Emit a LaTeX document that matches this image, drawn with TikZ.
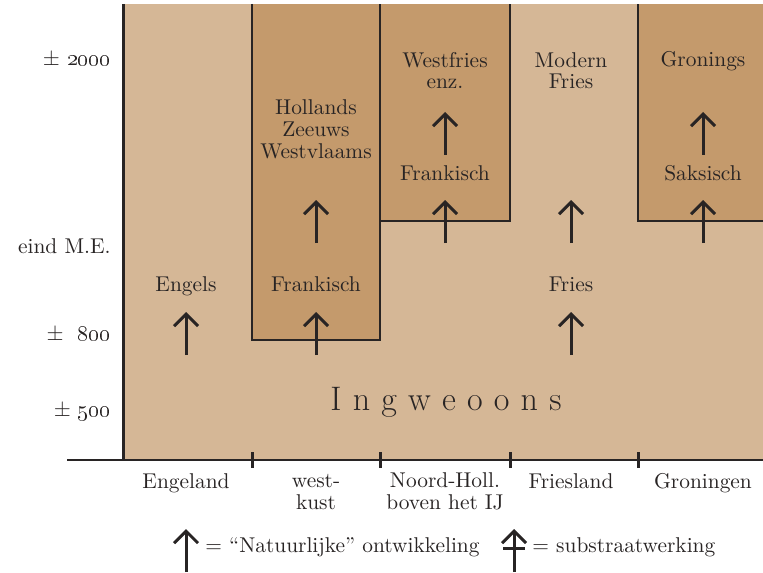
\documentclass[tikz,border=0pt]{standalone}
\usetikzlibrary{arrows.meta}
\definecolor{lichtbruin}{RGB}{213,183,150}
\definecolor{donkerbruin}{RGB}{196,154,108}
\definecolor{inkt}{RGB}{40,36,36}
\newcommand\spatie{\kern5.6pt}

\begin{document}
\begin{tikzpicture}
[x=0.5pt,y=-0.5pt,%
  every node/.style={text=inkt,align=center,inner sep=0pt,anchor=base,%
    font=\fontsize{10.7}{10.8}\selectfont},%
  vak/.style={draw=inkt,line width=1pt},%
  pijl/.style={-{Straight Barb[length=6pt,width=12pt]},line width=1.5pt,draw=inkt},%
  streep/.style={line width=1.5pt,draw=inkt}]
\useasboundingbox (0,0) rectangle (763,572);
\fill[lichtbruin] (123,4) rectangle (763,460);
% donkere vakken
\fill[donkerbruin] (252,4) rectangle (380,340);
\fill[donkerbruin] (380,4) rectangle (510,221);
\fill[donkerbruin] (638,4) rectangle (763,221);
\draw[vak] (252,4) -- (252,340) -- (380,340) -- (380,4);
\draw[vak] (380,221) -- (510,221) -- (510,4);
\draw[vak] (763,221) -- (638,221) -- (638,4);
% assen
\coordinate (as-boven) at (123,4);
\coordinate (as-hoek) at (123,460);
\coordinate (as-links) at (67,460);
\coordinate (as-rechts) at (763,460);
\draw[streep] (as-boven) -- (as-hoek);
\draw[line width=1pt,draw=inkt] (as-links) -- (as-rechts);
\foreach \x in {252,380,510,638}
  \draw[streep] (\x,452) -- (\x,468);
% tijd
\node[anchor=base east] (t2000) at (111,66) {$\pm$ \oldstylenums{2000}};
\node[anchor=base east] (tme) at (111,253) {eind M.E.};
\node[anchor=base east] (t800) at (111,340) {$\pm$\ \ \oldstylenums{800}};
\node[anchor=base east] (t500) at (111,416) {$\pm$ \oldstylenums{500}};
% gebieden (basis = laatste regel)
\node (engeland) at (186,488) {Engeland};
\node (westkust) at (316,509) {west-\\kust};
\node (noordholl) at (445,509) {Noord-Holl.\\boven het IJ};
\node (friesland) at (571,488) {Friesland};
\node (groningen) at (703,488) {Groningen};
% talen
\node (engels) at (186,291) {Engels};
\node (frankisch1) at (316,291) {Frankisch};
\node (fries) at (571,291) {Fries};
\node (hollands) at (316,158) {Hollands\\Zeeuws\\Westvlaams};
\node (frankisch2) at (445,180) {Frankisch};
\node (westfries) at (445,89) {Westfries\\enz.};
\node (modern) at (571,89) {Modern\\Fries};
\node (saksisch) at (703,180) {Saksisch};
\node (gronings) at (703,67) {Gronings};
\node[font=\fontsize{17}{17}\selectfont] (ingweoons) at (446,410)
  {I\spatie n\spatie g\spatie w\spatie e\spatie o\spatie o\spatie n\spatie s};
% pijlen
\foreach \n/\x/\y in {p1/186/355,p2/316/355,p3/316/243,p4/445/243,p5/445/155,%
                      p6/571/243,p7/571/355,p8/703/243,p9/703/155}{
  \coordinate (\n-o) at (\x,\y);
  \coordinate (\n-b) at (\x,\y-43);
  \draw[pijl] (\n-o) -- (\n-b);
}
% legenda
\coordinate (l1-o) at (186,572);
\coordinate (l1-b) at (186,529);
\draw[pijl] (l1-o) -- (l1-b);
\node[anchor=base west] (natuurlijk) at (205,552) {= ``Natuurlijke'' ontwikkeling};
\coordinate (l2-o) at (514,572);
\coordinate (l2-b) at (514,529);
\coordinate (l2-l) at (503,548);
\coordinate (l2-r) at (525,548);
\draw[pijl] (l2-o) -- (l2-b);
\draw[streep] (l2-l) -- (l2-r);
\node[anchor=base west] (substraat) at (532,552) {= substraatwerking};
\end{tikzpicture}
\end{document}
